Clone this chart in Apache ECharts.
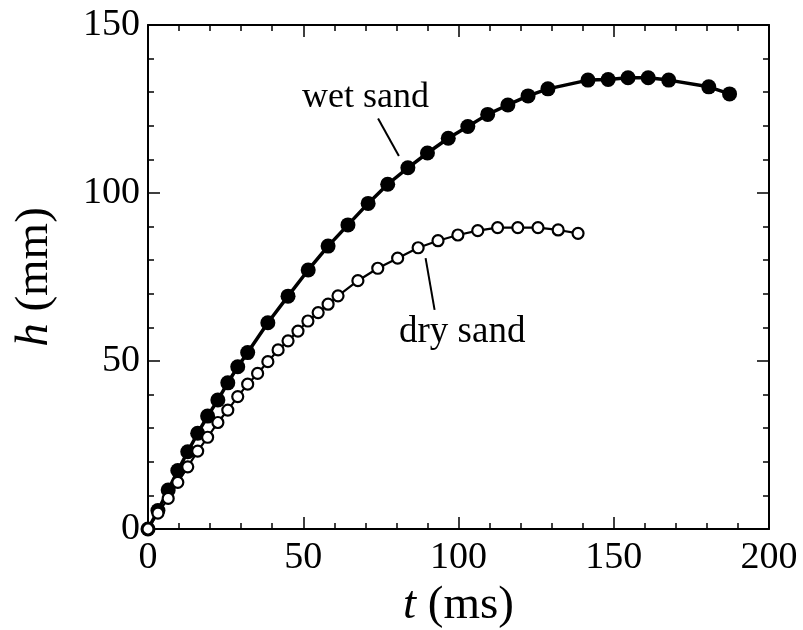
<!DOCTYPE html>
<html>
<head>
<meta charset="utf-8">
<script src="https://cdn.jsdelivr.net/npm/echarts@6/dist/echarts.min.js"></script>
<style>
  html, body { margin: 0; padding: 0; background: #fff; }
  #chart { width: 803px; height: 630px; }
</style>
</head>
<body>
<div id="chart"></div>
<script>
// wet sand (filled circles)
var wetT = [0, 3.2, 6.5, 9.6, 12.8, 16.0, 19.2, 22.5, 25.7, 28.9, 32.1, 38.6, 45.1, 51.6, 58.0, 64.4,
            70.9, 77.2, 83.7, 90.0, 96.7, 103.0, 109.4, 115.9, 122.4, 128.8, 141.7, 148.2, 154.6,
            161.1, 167.7, 180.6, 187.3];
var wetH = [0, 5.5, 11.6, 17.4, 23.0, 28.5, 33.6, 38.4, 43.5, 48.3, 52.5, 61.4, 69.3, 77.1, 84.2, 90.5,
            96.9, 102.6, 107.5, 111.9, 116.3, 119.8, 123.4, 126.2, 128.9, 131.0, 133.6, 133.8, 134.3,
            134.3, 133.6, 131.6, 129.5];

// dry sand (open circles)
var dryT = [0, 3.2, 6.5, 9.6, 12.8, 16.0, 19.2, 22.5, 25.7, 28.9, 32.1, 35.3, 38.6, 41.9, 45.1, 48.3,
            51.5, 54.8, 58.0, 61.2, 67.6, 74.0, 80.4, 87.0, 93.4, 99.8, 106.2, 112.6, 119.1, 125.6,
            132.1, 138.5];
var dryH = [0, 4.7, 9.1, 13.9, 18.5, 23.2, 27.3, 31.7, 35.4, 39.4, 43.1, 46.3, 49.8, 53.3, 56.0, 58.9,
            61.9, 64.4, 66.9, 69.4, 73.9, 77.6, 80.6, 83.7, 85.8, 87.5, 88.8, 89.7, 89.7, 89.7,
            89.0, 88.0];

var xTicks = [0, 50, 100, 150, 200];
var yTicks = [0, 50, 100, 150];

// leader lines for the two labels (data coords)
var wetLeader = [[74.1, 122.2], [80.8, 111.0]];
var dryLeader = [[89.4, 80.6], [92.3, 65.2]];

var serif = '"Liberation Serif", "Times New Roman", serif';

function pairs(xs, ys) {
    return xs.map(function (x, i) { return [x, ys[i]]; });
}

var chart = echarts.init(document.getElementById('chart'));

function axisBase(min, max) {
    return {
        type: 'value',
        min: min,
        max: max,
        interval: 50,
        splitLine: { show: false },
        axisLine: { show: true, onZero: false, lineStyle: { color: '#000', width: 2 } },
        axisTick: { show: true, inside: true, length: 12, lineStyle: { color: '#000', width: 1.5 } },
        minorTick: { show: true, splitNumber: 5, length: 6, lineStyle: { color: '#000', width: 1.5 } },
        minorSplitLine: { show: false }
    };
}

var xMain = axisBase(xTicks[0], xTicks[xTicks.length - 1]);
xMain.position = 'bottom';
xMain.axisLabel = { color: '#000', fontSize: 38, fontFamily: serif, margin: 10 };
xMain.name = '{i|t} (ms)';
xMain.nameLocation = 'middle';
xMain.nameGap = 48;
xMain.nameTextStyle = { color: '#000', fontSize: 47, fontFamily: serif,
    rich: { i: { fontStyle: 'italic', fontSize: 47, fontFamily: serif, color: '#000' } } };

var xTop = axisBase(xTicks[0], xTicks[xTicks.length - 1]);
xTop.position = 'top';
xTop.axisLabel = { show: false };

var yMain = axisBase(yTicks[0], yTicks[yTicks.length - 1]);
yMain.position = 'left';
yMain.axisLabel = { color: '#000', fontSize: 38, fontFamily: serif, margin: 8 };
yMain.name = '{i|h} (mm)';
yMain.nameLocation = 'middle';
yMain.nameRotate = 90;
yMain.nameGap = 90;
yMain.nameTextStyle = { color: '#000', fontSize: 47, fontFamily: serif,
    rich: { i: { fontStyle: 'italic', fontSize: 47, fontFamily: serif, color: '#000' } } };

var yRight = axisBase(yTicks[0], yTicks[yTicks.length - 1]);
yRight.position = 'right';
yRight.axisLabel = { show: false };

var option = {
    backgroundColor: '#fff',
    animation: false,
    grid: { left: 148, right: 34, top: 25, bottom: 101, containLabel: false, outerBoundsMode: 'none' },
    xAxis: [xMain, xTop],
    yAxis: [yMain, yRight],
    graphic: [
        { type: 'text', left: 302, top: 80,
          style: { text: 'wet sand', font: '36px ' + serif, fill: '#000' } },
        { type: 'text', left: 399, top: 314,
          style: { text: 'dry sand', font: '37px ' + serif, fill: '#000' } }
    ],
    series: [
        {
            name: 'wet sand',
            type: 'line',
            xAxisIndex: 0,
            yAxisIndex: 0,
            data: pairs(wetT, wetH),
            symbol: 'circle',
            symbolSize: 15,
            showAllSymbol: true,
            itemStyle: { color: '#000' },
            lineStyle: { color: '#000', width: 3.5 },
            z: 2
        },
        {
            name: 'dry sand',
            type: 'line',
            xAxisIndex: 0,
            yAxisIndex: 0,
            data: pairs(dryT, dryH),
            symbol: 'circle',
            symbolSize: 11,
            showAllSymbol: true,
            itemStyle: { color: '#fff', borderColor: '#000', borderWidth: 2.2 },
            lineStyle: { color: '#000', width: 2.2 },
            z: 3,
            markLine: {
                silent: true,
                symbol: 'none',
                label: { show: false },
                lineStyle: { color: '#000', width: 2, type: 'solid' },
                data: [
                    [{ coord: wetLeader[0] }, { coord: wetLeader[1] }],
                    [{ coord: dryLeader[0] }, { coord: dryLeader[1] }]
                ]
            }
        }
    ]
};

chart.setOption(option);
</script>
</body>
</html>
